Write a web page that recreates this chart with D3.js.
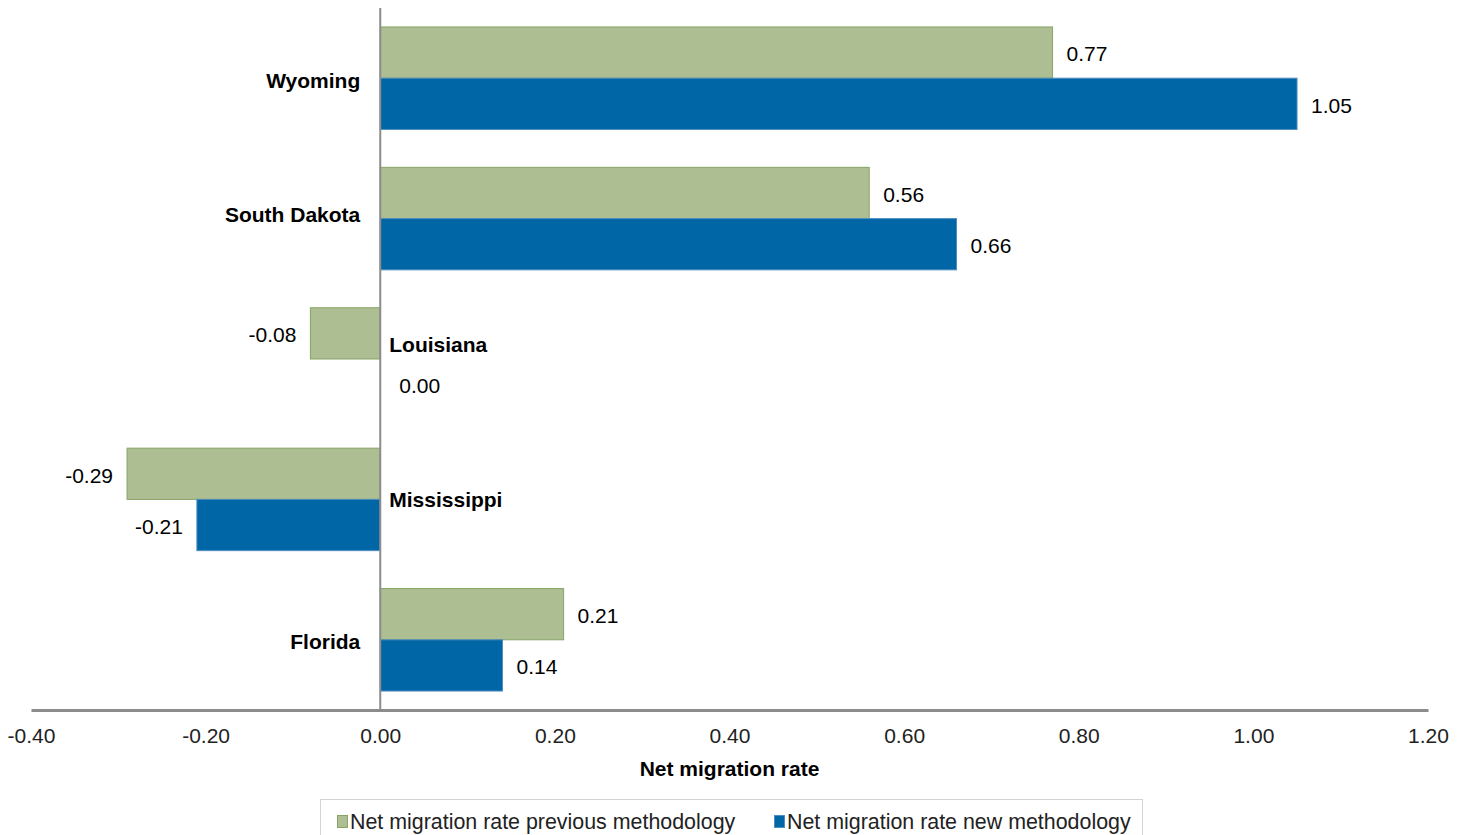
<!DOCTYPE html>
<html>
<head>
<meta charset="utf-8">
<script src="https://cdn.jsdelivr.net/npm/d3@7"></script>
<style>
  html, body { margin: 0; padding: 0; background: #fff; }
  text { font-family: "Liberation Sans", Arial, sans-serif; }
</style>
</head>
<body>
<svg id="chart" width="1477" height="835"></svg>
<script>
// States shown, top to bottom
const states = ["Wyoming", "South Dakota", "Louisiana", "Mississippi", "Florida"];
// Net migration rate, previous methodology
const previousRate = [0.77, 0.56, -0.08, -0.29, 0.21];
// Net migration rate, new methodology
const newRate = [1.05, 0.66, 0.00, -0.21, 0.14];
// Axis ticks
const xTicks = [-0.40, -0.20, 0.00, 0.20, 0.40, 0.60, 0.80, 1.00, 1.20];
const seriesNames = ["Net migration rate previous methodology", "Net migration rate new methodology"];

const colors = {
  prevFill: "#adbe93", prevStroke: "#86a466",
  newFill: "#0066a6", newStroke: "#4f8dc0"
};

// two decimals with a plain hyphen for negatives
const fmt = d3.formatLocale({ decimal: ".", thousands: ",", grouping: [3], currency: ["", ""], minus: "-" }).format(".2f");

const svg = d3.select("#chart");
const plot = { left: 31, right: 1428, top: 8, bottom: 710 };

const x = d3.scaleLinear().domain([-0.4, 1.2]).range([plot.left, plot.right]);
const y = d3.scaleBand().domain(states).range([plot.top, plot.bottom])
  .paddingInner(0.27).paddingOuter(0.135);
const sub = d3.scaleBand().domain([0, 1]).range([0, y.bandwidth()]);

const rows = states.map((s, i) => ({ state: s, values: [previousRate[i], newRate[i]] }));

// Bars
const g = svg.append("g");
rows.forEach(r => {
  r.values.forEach((v, k) => {
    const x0 = x(Math.min(0, v)), x1 = x(Math.max(0, v));
    const zero = v === 0;
    g.append("rect")
      .attr("x", zero ? x0 + 1 : x0)
      .attr("y", y(r.state) + sub(k))
      .attr("width", x1 - x0)
      .attr("height", sub.bandwidth())
      .attr("fill", k === 0 ? colors.prevFill : colors.newFill)
      .attr("stroke", k === 0 ? colors.prevStroke : colors.newStroke)
      .attr("stroke-width", 1);
    // value label
    const gap = zero ? 19 : 14;
    g.append("text")
      .attr("x", v < 0 ? x(v) - gap : x(v) + gap)
      .attr("y", y(r.state) + sub(k) + sub.bandwidth() / 2)
      .attr("dy", "0.42em")
      .attr("text-anchor", v < 0 ? "end" : "start")
      .attr("font-size", 21)
      .attr("fill", "#000")
      .text(fmt(v));
  });
});

// X axis
const xAxis = d3.axisBottom(x).tickValues(xTicks).tickSize(0).tickPadding(18)
  .tickFormat(fmt);
const ax = svg.append("g").attr("transform", `translate(0,${plot.bottom})`).call(xAxis);
ax.select(".domain").attr("stroke", "#8c8c8c").attr("stroke-width", 3);
ax.selectAll(".tick text")
  .attr("font-size", 21)
  .attr("fill", "#222")
  .attr("font-family", "'Liberation Sans', Arial, sans-serif");

// Vertical zero line
svg.append("line")
  .attr("x1", x(0)).attr("x2", x(0))
  .attr("y1", plot.top).attr("y2", plot.bottom)
  .attr("stroke", "#8c8c8c").attr("stroke-width", 2);

// State labels: left of the zero line for positive rows, right for rows with negative values
const labelShift = { "Louisiana": -15, "South Dakota": -4, "Wyoming": 2, "Florida": 2 };
rows.forEach(r => {
  const neg = Math.min(...r.values) < 0;
  svg.append("text")
    .attr("x", neg ? x(0) + 9 : x(0) - 20)
    .attr("y", y(r.state) + y.bandwidth() / 2 + (labelShift[r.state] || 0))
    .attr("dy", "0.36em")
    .attr("text-anchor", neg ? "start" : "end")
    .attr("font-size", 21)
    .attr("font-weight", "bold")
    .attr("fill", "#000")
    .text(r.state);
});

// Axis title
svg.append("text")
  .attr("x", (x(-0.4) + x(1.2)) / 2)
  .attr("y", 768)
  .attr("dy", "0.36em")
  .attr("text-anchor", "middle")
  .attr("font-size", 21)
  .attr("font-weight", "bold")
  .attr("fill", "#000")
  .text("Net migration rate");

// Legend
const lg = svg.append("g");
lg.append("rect")
  .attr("x", 320.5).attr("y", 799.5).attr("width", 822).attr("height", 50)
  .attr("fill", "#fff").attr("stroke", "#d3d3d3").attr("stroke-width", 1);
const legendItems = [
  { name: seriesNames[0], fill: colors.prevFill, stroke: colors.prevStroke, x: 337 },
  { name: seriesNames[1], fill: colors.newFill, stroke: colors.newStroke, x: 774 }
];
legendItems.forEach(it => {
  lg.append("rect")
    .attr("x", it.x + 0.5).attr("y", 815.5).attr("width", 10).attr("height", 12)
    .attr("fill", it.fill).attr("stroke", it.stroke).attr("stroke-width", 1);
  lg.append("text")
    .attr("x", it.x + 13)
    .attr("y", 821)
    .attr("dy", "0.36em")
    .attr("font-size", 21.4)
    .attr("fill", "#222")
    .text(it.name);
});
</script>
</body>
</html>
